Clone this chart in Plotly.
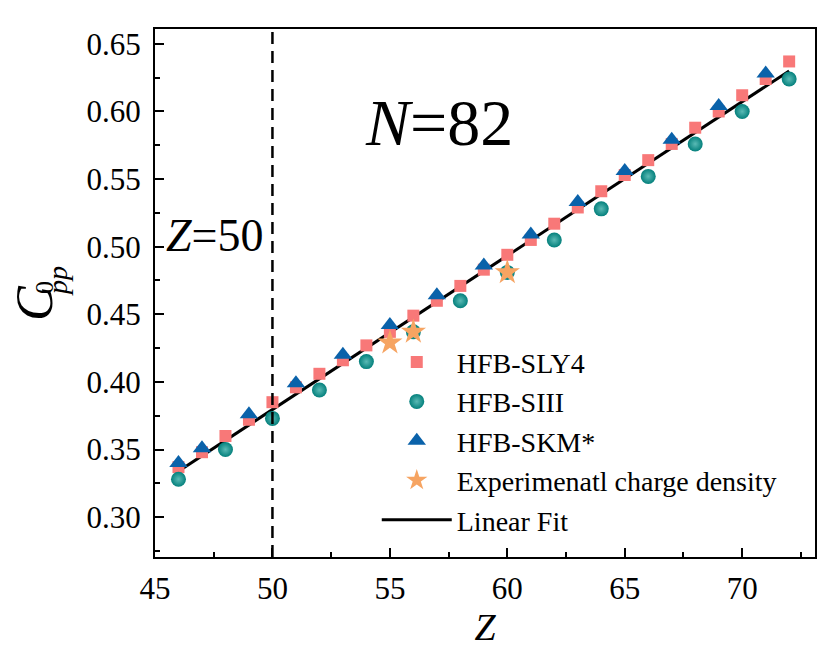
import plotly.graph_objects as go

# proton number Z along the N=82 chain
z_sly4 = [46, 47, 48, 49, 50, 51, 52, 53, 54, 55, 56, 57, 58, 59, 60, 61, 62, 63, 64, 65, 66, 67, 68, 69, 70, 71, 72]
c_sly4 = [0.337, 0.348, 0.360, 0.372, 0.385, 0.396, 0.406, 0.416, 0.427, 0.437, 0.449, 0.460, 0.471, 0.483, 0.494,
          0.505, 0.517, 0.529, 0.541, 0.553, 0.564, 0.576, 0.588, 0.600, 0.612, 0.624, 0.637]

z_siii = [46, 48, 50, 52, 54, 56, 58, 60, 62, 64, 66, 68, 70, 72]
c_siii = [0.328, 0.350, 0.373, 0.394, 0.415, 0.437, 0.460, 0.481, 0.505, 0.528, 0.552, 0.576, 0.600, 0.624]

z_skm = [46, 47, 49, 51, 53, 55, 57, 59, 61, 63, 65, 67, 69, 71]
c_skm = [0.340, 0.351, 0.376, 0.399, 0.420, 0.442, 0.464, 0.486, 0.509, 0.533, 0.556, 0.579, 0.604, 0.628]

z_exp = [55, 56, 60]
c_exp = [0.429, 0.437, 0.481]

z_fit = [46, 72]
c_fit = [0.334, 0.630]

FONT = "Liberation Serif"

fig = go.Figure()

fig.add_trace(go.Scatter(x=z_fit, y=c_fit, mode="lines", name="Linear Fit",
                         line=dict(color="black", width=3), legendrank=5))
fig.add_trace(go.Scatter(x=z_sly4, y=c_sly4, mode="markers", name="HFB-SLY4", legendrank=1,
                         marker=dict(symbol="square", size=12, color="#F87878")))
fig.add_trace(go.Scatter(x=z_siii, y=c_siii, mode="markers", name="HFB-SIII", legendrank=2,
                         marker=dict(symbol="circle", size=15, color="#04807C",
                                     gradient=dict(type="radial", color="#5ABAB5"))))
fig.add_trace(go.Scatter(x=z_skm, y=c_skm, mode="markers", name="HFB-SKM*", legendrank=3,
                         marker=dict(symbol="triangle-up", size=16, color="#0A62AA")))
fig.add_trace(go.Scatter(x=z_exp, y=c_exp, mode="markers", name="Experimenatl charge density", legendrank=4,
                         marker=dict(symbol="star", size=19, color="#F6A462")))

# Z=50 shell closure
fig.add_shape(type="line", x0=50, x1=50, y0=0, y1=1, xref="x", yref="paper",
              line=dict(color="black", width=2.5, dash="12px,7px"))

fig.add_annotation(text="<i>N</i>=82", x=57.1, y=0.592, showarrow=False,
                   font=dict(family=FONT, size=66, color="black"))
fig.add_annotation(text="<i>Z</i>=50", x=47.55, y=0.508, showarrow=False,
                   font=dict(family=FONT, size=46, color="black"))

# y axis title C^0_pp built from pieces, placed in pixels left of the plot area
fig.add_annotation(text="<i>C</i>", xref="paper", yref="paper", x=0, y=0.5, xshift=-121, yshift=-10,
                   xanchor="center", yanchor="middle", textangle=-90, showarrow=False,
                   font=dict(family=FONT, size=52, color="black"))
fig.add_annotation(text="0", xref="paper", yref="paper", x=0, y=0.5, xshift=-111, yshift=5,
                   xanchor="center", yanchor="middle", textangle=-90, showarrow=False,
                   font=dict(family=FONT, size=26, color="black"))
fig.add_annotation(text="<i>pp</i>", xref="paper", yref="paper", x=0, y=0.5, xshift=-98, yshift=12,
                   xanchor="center", yanchor="middle", textangle=-90, showarrow=False,
                   font=dict(family=FONT, size=28, color="black"))

axis_common = dict(
    showgrid=False, zeroline=False, showline=True, linecolor="black", linewidth=2,
    mirror=True, ticks="inside", ticklen=9, tickwidth=2, tickcolor="black",
    tickfont=dict(family=FONT, size=31, color="black"),
)

fig.update_xaxes(range=[45, 73.1], dtick=5, tick0=45, ticklabelstandoff=3,
                 minor=dict(dtick=2.5, ticks="inside", ticklen=5, tickwidth=1.5, tickcolor="black"),
                 title=dict(text="<i>Z</i>", font=dict(family=FONT, size=38, color="black"), standoff=0),
                 **axis_common)
fig.update_yaxes(range=[0.2705, 0.661], dtick=0.05, tick0=0.3, tickformat=".2f", ticklabelstandoff=6,
                 minor=dict(dtick=0.025, ticks="inside", ticklen=5, tickwidth=1.5, tickcolor="black"),
                 **axis_common)

fig.update_layout(
    width=830, height=650,
    margin=dict(l=147, r=23, t=21, b=101),
    plot_bgcolor="white", paper_bgcolor="white",
    font=dict(family=FONT, color="black"),
    legend=dict(x=0.336, y=0.024, xanchor="left", yanchor="bottom",
                font=dict(family=FONT, size=28, color="black"),
                bgcolor="rgba(0,0,0,0)", tracegroupgap=0, itemwidth=70),
)

fig.write_html("out.html")
